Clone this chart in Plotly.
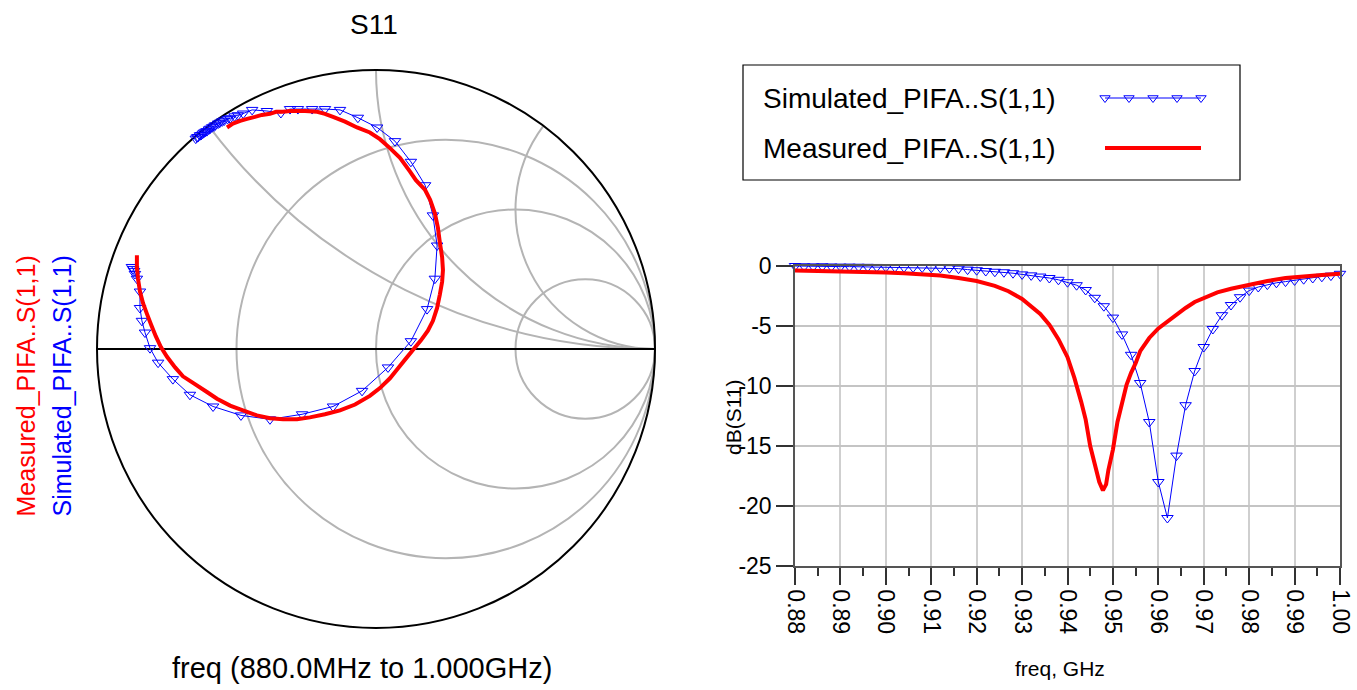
import numpy as np
import plotly.graph_objects as go

# ---------------- data ----------------
# Simulated S11, 0.880 .. 1.000 GHz in 2 MHz steps
sim_freq_ghz = [round(0.880 + 0.002 * i, 3) for i in range(61)]
sim_db = [
    0.00, -0.02, -0.03, -0.02, -0.04, -0.05, -0.05, -0.06, -0.07, -0.08,
    -0.09, -0.10, -0.11, -0.12, -0.13, -0.14, -0.16, -0.18, -0.22, -0.30,
    -0.35, -0.42, -0.48, -0.52, -0.60, -0.70, -0.78, -0.88, -1.00, -1.15,
    -1.35, -1.60, -2.00, -2.65, -3.35, -4.30, -5.70, -7.40, -9.75, -13.0,
    -18.0, -21.0, -15.8, -11.6, -8.75, -6.75, -5.25, -4.10, -3.25, -2.60,
    -2.05, -1.75, -1.55, -1.40, -1.30, -1.20, -1.10, -1.00, -0.90, -0.80,
    -0.65,
]
sim_s11_re = [
    -0.646, -0.641, -0.638, -0.631, -0.627, -0.621, -0.616, -0.611, -0.606, -0.599,
    -0.594, -0.587, -0.580, -0.576, -0.566, -0.560, -0.551, -0.544, -0.532, -0.523,
    -0.507, -0.495, -0.476, -0.444, -0.391, -0.341, -0.308, -0.280, -0.229, -0.183,
    -0.129, -0.065, 0.004, 0.068, 0.125, 0.176, 0.204, 0.219, 0.211, 0.183,
    0.125, 0.043, -0.050, -0.154, -0.265, -0.380, -0.484, -0.584, -0.667, -0.728,
    -0.781, -0.810, -0.828, -0.839, -0.846, -0.846, -0.857, -0.864, -0.867, -0.871,
    -0.875,
]
sim_s11_im = [
    0.754, 0.759, 0.760, 0.766, 0.767, 0.772, 0.776, 0.779, 0.781, 0.787,
    0.790, 0.795, 0.798, 0.802, 0.808, 0.811, 0.816, 0.819, 0.825, 0.827,
    0.834, 0.838, 0.844, 0.857, 0.853, 0.846, 0.860, 0.860, 0.860, 0.860,
    0.857, 0.829, 0.794, 0.745, 0.671, 0.587, 0.479, 0.371, 0.252, 0.143,
    0.028, -0.066, -0.150, -0.206, -0.234, -0.252, -0.238, -0.206, -0.164, -0.108,
    -0.049, 0.003, 0.059, 0.101, 0.147, 0.206, 0.252, 0.269, 0.280, 0.287,
    0.294,
]

# Measured S11 (VNA sweep, 0.880 .. 1.000 GHz)
meas_freq_ghz = [
    0.880, 0.884, 0.888, 0.892, 0.896, 0.900, 0.904, 0.908, 0.912, 0.916,
    0.920, 0.924, 0.927, 0.930, 0.932, 0.934, 0.936, 0.938, 0.940, 0.9415,
    0.943, 0.944, 0.945, 0.946, 0.947, 0.9478, 0.9485, 0.949, 0.950, 0.951,
    0.952, 0.953, 0.954, 0.955, 0.956, 0.958, 0.960, 0.962, 0.964, 0.966,
    0.968, 0.970, 0.973, 0.976, 0.980, 0.984, 0.988, 0.992, 0.996, 1.000,
]
meas_db = [
    -0.38, -0.40, -0.45, -0.43, -0.48, -0.55, -0.60, -0.68, -0.80, -1.00,
    -1.25, -1.65, -2.10, -2.75, -3.40, -4.00, -4.90, -6.10, -7.60, -9.30,
    -11.3, -12.8, -15.0, -16.6, -18.0, -18.7, -18.2, -17.0, -15.3, -13.0,
    -11.3, -9.90, -8.90, -8.10, -7.10, -6.00, -5.20, -4.60, -4.00, -3.50,
    -3.00, -2.70, -2.20, -1.90, -1.55, -1.25, -1.00, -0.85, -0.75, -0.65,
]
meas_s11_re = [
    -0.534, -0.513, -0.487, -0.462, -0.434, -0.409, -0.380, -0.358, -0.333, -0.308,
    -0.283, -0.254, -0.211, -0.183, -0.154, -0.111, -0.068, -0.022, 0.014, 0.050,
    0.086, 0.122, 0.143, 0.176, 0.194, 0.211, 0.222, 0.229, 0.237, 0.240,
    0.237, 0.229, 0.219, 0.204, 0.186, 0.161, 0.133, 0.104, 0.077, 0.050,
    0.014, -0.022, -0.075, -0.129, -0.183, -0.237, -0.283, -0.333, -0.380, -0.427,
    -0.477, -0.523, -0.570, -0.606, -0.649, -0.692, -0.720, -0.749, -0.771, -0.789,
    -0.806, -0.821, -0.835, -0.846, -0.853, -0.857, -0.857,
]
meas_s11_im = [
    0.794, 0.808, 0.818, 0.825, 0.832, 0.839, 0.843, 0.850, 0.850, 0.853,
    0.853, 0.853, 0.850, 0.843, 0.832, 0.815, 0.794, 0.776, 0.752, 0.720,
    0.685, 0.636, 0.605, 0.570, 0.535, 0.486, 0.434, 0.381, 0.329, 0.283,
    0.241, 0.196, 0.147, 0.101, 0.066, 0.031, -0.003, -0.038, -0.072, -0.105,
    -0.140, -0.168, -0.199, -0.220, -0.234, -0.245, -0.252, -0.252, -0.248, -0.238,
    -0.220, -0.203, -0.178, -0.154, -0.126, -0.098, -0.066, -0.028, 0.007, 0.045,
    0.087, 0.126, 0.164, 0.206, 0.252, 0.294, 0.336,
]

sim_name = "Simulated_PIFA..S(1,1)"
meas_name = "Measured_PIFA..S(1,1)"
freq_ticks = [round(0.88 + 0.01 * i, 2) for i in range(13)]
db_ticks = [0, -5, -10, -15, -20, -25]

# ---------------- helpers ----------------
W, H = 1357, 690
FONT = "Liberation Sans, Arial, sans-serif"


def px(x):
    return x / W


def py(y):
    return 1 - y / H


def to_z(re, im):
    g = np.asarray(re) + 1j * np.asarray(im)
    return (1 + g) / (1 - g)


BLUE = "#0000ff"
RED = "#ff0000"

fig = go.Figure()

# ---------------- Smith chart ----------------
z_sim = to_z(sim_s11_re, sim_s11_im)
z_meas = to_z(meas_s11_re, meas_s11_im)

fig.add_trace(go.Scattersmith(
    real=z_sim.real, imag=z_sim.imag, mode="lines+markers",
    line=dict(color=BLUE, width=1),
    marker=dict(symbol="triangle-down-open", size=10, color=BLUE,
                line=dict(width=1)),
    name=sim_name, subplot="smith",
))
fig.add_trace(go.Scattersmith(
    real=z_meas.real, imag=z_meas.imag, mode="lines",
    line=dict(color=RED, width=4),
    name=meas_name, subplot="smith",
))

# ---------------- dB(S11) vs frequency ----------------
fig.add_trace(go.Scatter(
    x=sim_freq_ghz, y=sim_db, mode="lines+markers",
    line=dict(color=BLUE, width=1),
    marker=dict(symbol="triangle-down-open", size=10, color=BLUE,
                line=dict(width=1)),
    name=sim_name, xaxis="x", yaxis="y", cliponaxis=False,
))
fig.add_trace(go.Scatter(
    x=meas_freq_ghz, y=meas_db, mode="lines",
    line=dict(color=RED, width=4),
    name=meas_name, xaxis="x", yaxis="y",
))

# ---------------- legend samples (drawn beside the text) ----------------
fig.add_trace(go.Scatter(
    x=[0, 1, 2, 3, 4], y=[0.5] * 5, mode="lines+markers",
    line=dict(color=BLUE, width=1),
    marker=dict(symbol="triangle-down-open", size=9, color=BLUE,
                line=dict(width=1)),
    xaxis="x3", yaxis="y3", hoverinfo="skip", cliponaxis=False,
))
fig.add_trace(go.Scatter(
    x=[-0.1, 4.0], y=[-0.5, -0.5], mode="lines",
    line=dict(color=RED, width=4),
    xaxis="x3", yaxis="y3", hoverinfo="skip", cliponaxis=False,
))

grid_col = "#b4b4b4"

fig.update_layout(
    width=W, height=H,
    margin=dict(l=0, r=0, t=0, b=0, pad=0, autoexpand=False),
    paper_bgcolor="white", plot_bgcolor="white",
    showlegend=False,
    font=dict(family=FONT, color="black"),
    smith=dict(
        domain=dict(x=[px(97), px(655)], y=[py(635), py(63)]),
        bgcolor="white",
        realaxis=dict(
            tickvals=[1 / 3, 1, 3], showticklabels=False, ticks="",
            showgrid=True, gridcolor=grid_col, gridwidth=1.5,
            showline=True, linecolor="black", linewidth=2,
            layer="below traces",
        ),
        imaginaryaxis=dict(
            tickvals=[0.5, 1, 2], showticklabels=False, ticks="",
            showgrid=True, gridcolor=grid_col, gridwidth=1.5,
            showline=True, linecolor="black", linewidth=2,
            layer="below traces",
        ),
    ),
    xaxis=dict(
        domain=[px(795), px(1340)], range=[0.88, 1.00], automargin=False,
        tickvals=freq_ticks, ticktext=[f"{v:.2f}" for v in freq_ticks],
        tickangle=90, tickfont=dict(size=23, family=FONT),
        ticks="outside", ticklen=17, tickwidth=1.5, tickcolor="#333",
        minor=dict(dtick=0.005, tick0=0.88, ticks="outside", ticklen=8,
                   tickwidth=1.5, tickcolor="#333", showgrid=False),
        showgrid=True, gridcolor="#cfcfcf", gridwidth=1.5,
        showline=True, linecolor="#555", linewidth=1.5, mirror=True,
        zeroline=False, anchor="y",
    ),
    yaxis=dict(
        domain=[py(566), py(266)], range=[-25, 0], automargin=False,
        tickvals=db_ticks, ticktext=[str(v) for v in db_ticks],
        tickfont=dict(size=23, family=FONT),
        ticks="outside", ticklen=17, tickwidth=1.5, tickcolor="#333",
        showgrid=True, gridcolor="#c4c4c4", gridwidth=1.5,
        showline=True, linecolor="#555", linewidth=1.5, mirror=True,
        zeroline=True, zerolinecolor="black", zerolinewidth=1.5,
        anchor="x",
    ),
    xaxis3=dict(domain=[px(1105), px(1201)], range=[0, 4], visible=False,
                fixedrange=True, anchor="y3", automargin=False),
    yaxis3=dict(domain=[py(173), py(73)], range=[-1, 1], visible=False,
                fixedrange=True, anchor="x3", automargin=False),
)

# legend frame
fig.add_shape(type="rect", xref="paper", yref="paper",
              x0=px(743), x1=px(1240), y0=py(180), y1=py(65),
              line=dict(color="black", width=1.2), fillcolor="rgba(0,0,0,0)",
              layer="below")

ann = [
    dict(text="S11", x=px(374), y=py(24), size=28),
    dict(text="freq (880.0MHz to 1.000GHz)", x=px(362), y=py(668), size=29),
    dict(text="freq, GHz", x=px(1060), y=py(668), size=21),
]
for a in ann:
    fig.add_annotation(text=a["text"], x=a["x"], y=a["y"], xref="paper",
                       yref="paper", showarrow=False, xanchor="center",
                       yanchor="middle", font=dict(size=a["size"], family=FONT))

fig.add_annotation(text="dB(S11)", x=px(733), y=py(418), xref="paper",
                   yref="paper", showarrow=False, textangle=-90,
                   font=dict(size=21, family=FONT))

# left-hand trace labels
fig.add_annotation(text=meas_name, x=px(25), y=py(254), xref="paper",
                   yref="paper", showarrow=False, textangle=-90,
                   xanchor="center", yanchor="top",
                   font=dict(size=25, family=FONT, color=RED))
fig.add_annotation(text=sim_name, x=px(61), y=py(254), xref="paper",
                   yref="paper", showarrow=False, textangle=-90,
                   xanchor="center", yanchor="top",
                   font=dict(size=25, family=FONT, color=BLUE))

# legend text
for name, yy in [(sim_name, 98), (meas_name, 149)]:
    fig.add_annotation(text=name, x=px(761), y=py(yy), xref="paper",
                       yref="paper", showarrow=False, xanchor="left",
                       yanchor="middle", font=dict(size=28, family=FONT))

fig.write_html("out.html")
